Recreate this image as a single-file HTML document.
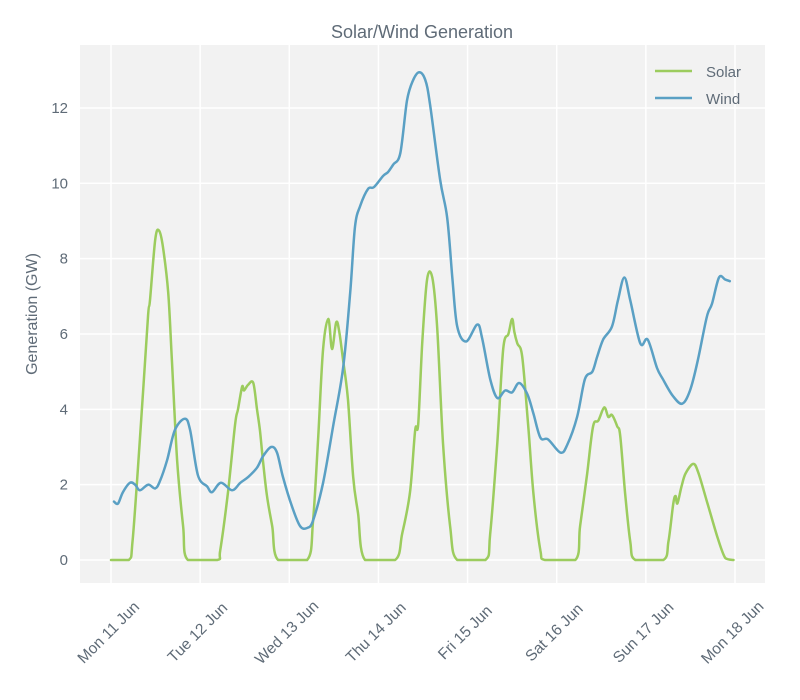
<!DOCTYPE html>
<html><head><meta charset="utf-8"><style>
body{margin:0;background:#fff;}
svg{display:block;font-family:"Liberation Sans",sans-serif;}
</style></head><body>
<svg id="chart" width="800" height="700" viewBox="0 0 800 700">
<rect x="0" y="0" width="800" height="700" fill="#fff"/>
<rect x="80" y="45" width="685" height="538" fill="#f2f2f2"/>
<g id="grid"></g>
<g id="axes"></g>
<g id="series"></g>
<text x="422" y="38" text-anchor="middle" font-size="18" fill="#5f6b77">Solar/Wind Generation</text>
<text transform="translate(37,314) rotate(-90)" text-anchor="middle" font-size="16" fill="#5f6b77">Generation (GW)</text>
<g>
<line x1="655" y1="71" x2="692" y2="71" stroke="#9ccc5e" stroke-width="2.5"/>
<text x="706" y="77" font-size="15" fill="#5f6b77">Solar</text>
<line x1="655" y1="98" x2="692" y2="98" stroke="#5aa0c4" stroke-width="2.5"/>
<text x="706" y="104" font-size="15" fill="#5f6b77">Wind</text>
</g>
</svg>
<script>
const dayLabels=["Mon 11 Jun","Tue 12 Jun","Wed 13 Jun","Thu 14 Jun","Fri 15 Jun","Sat 16 Jun","Sun 17 Jun","Mon 18 Jun"];
const yTicks=[0,2,4,6,8,10,12];
const solarHours=[0,4.8,5.9,8.6,10.0,10.5,11.9,12.9,14.0,15.4,16.4,17.8,19.4,20.7,28.6,29.4,31.5,33.4,34.2,35.3,35.8,36.9,38.3,39.3,40.1,40.9,42.0,43.4,45.0,52.8,54.4,55.8,57.1,58.5,59.5,60.6,61.4,62.5,63.8,65.2,66.5,68.4,76.5,78.4,80.5,81.9,82.7,83.8,85.1,86.5,87.8,89.4,91.3,93.2,100.8,102.1,104.0,105.6,107.0,108.0,108.6,109.4,110.7,112.3,113.7,115.6,116.9,125.0,126.3,128.2,129.8,131.2,132.8,133.9,134.9,136.3,137.1,138.4,139.8,141.2,148.7,150.1,151.4,152.0,152.5,153.6,154.7,156.8,158.2,160.6,163.3,165.4,167.6];
const solarValues=[0,0,0.6,4.4,6.5,6.9,8.5,8.75,8.3,7.1,5.3,2.65,0.9,0,0,0.25,1.8,3.6,4.0,4.6,4.5,4.65,4.7,4.0,3.45,2.65,1.7,0.9,0,0,1.05,3.3,5.6,6.4,5.6,6.3,6.1,5.3,4.25,2.2,1.25,0,0,0.7,1.8,3.45,3.6,5.75,7.45,7.5,6.2,3.1,0.9,0,0,0.7,3.1,5.6,6.0,6.4,6.05,5.75,5.4,3.6,1.8,0.25,0,0,0.9,2.3,3.55,3.7,4.05,3.8,3.85,3.55,3.3,1.8,0.5,0,0,0.5,1.5,1.7,1.5,1.95,2.3,2.55,2.3,1.5,0.6,0.05,0];
const windHours=[0.8,1.9,3.2,5.1,6.5,7.8,10.0,11.9,13.2,15.1,17.2,19.9,21.3,23.4,25.9,27.2,29.6,32.6,34.8,36.9,39.3,40.9,43.1,44.7,46.3,48.8,50.9,52.8,54.4,57.1,59.8,62.5,64.4,65.7,67.1,69.2,70.8,73.3,74.6,76.0,77.9,79.7,81.4,83.0,84.6,85.9,88.6,90.5,91.9,93.2,95.6,98.6,99.9,102.1,104.0,106.1,108.0,109.9,112.1,113.7,115.6,117.7,121.0,122.8,125.5,127.6,129.6,130.9,132.5,134.9,136.5,138.2,139.8,142.5,144.5,147.0,148.6,151.3,153.8,155.9,158.0,160.4,161.8,163.7,165.3,166.6];
const windValues=[1.55,1.5,1.8,2.05,2.0,1.85,2.0,1.9,2.1,2.65,3.45,3.75,3.45,2.25,1.95,1.8,2.05,1.85,2.05,2.2,2.45,2.75,3.0,2.85,2.2,1.4,0.9,0.85,1.05,2.05,3.55,5.1,7.1,8.85,9.4,9.85,9.9,10.2,10.3,10.5,10.8,12.2,12.75,12.95,12.75,12.1,10.1,9.1,7.5,6.2,5.8,6.25,5.9,4.8,4.3,4.5,4.45,4.7,4.4,3.9,3.25,3.2,2.85,3.05,3.8,4.8,5.0,5.4,5.85,6.2,6.9,7.5,6.9,5.75,5.85,5.1,4.8,4.35,4.15,4.5,5.3,6.45,6.8,7.5,7.45,7.4];

const NS="http://www.w3.org/2000/svg";
const xS=h=>111+(h/24)*89.14;
const yS=v=>560-v*37.67;
function mk(tag,attrs,parent){const e=document.createElementNS(NS,tag);for(const k in attrs)e.setAttribute(k,attrs[k]);parent.appendChild(e);return e;}
const grid=document.getElementById('grid'),axes=document.getElementById('axes'),series=document.getElementById('series');
yTicks.forEach(v=>{
  const l=mk('line',{x1:80,x2:765,y1:yS(v),y2:yS(v),stroke:'#fff','stroke-width':1.5},grid);
  
  
  const t=mk('text',{x:68,y:yS(v)+5,'text-anchor':'end','font-size':15,fill:'#5f6b77'},axes);
  t.textContent=v;
  
  
});
dayLabels.forEach((d,i)=>{
  const x=xS(i*24);
  const l=mk('line',{x1:x,x2:x,y1:45,y2:583,stroke:'#fff','stroke-width':1.5},grid);
  
  
  const t=mk('text',{transform:`translate(${x+1},${636}) rotate(-45)`,'text-anchor':'middle','font-size':15.5,fill:'#5f6b77'},axes);
  t.textContent=d;
  
  
});
function line(hours,vals,color,name){
  const P=hours.map((h,i)=>[xS(h),yS(vals[i])]);
  const base=yS(0);
  const cl=y=>Math.min(y,base);
  let d='M'+P[0][0].toFixed(1)+','+P[0][1].toFixed(1);
  for(let i=0;i<P.length-1;i++){
    const p0=P[i-1]||P[i],p1=P[i],p2=P[i+1],p3=P[i+2]||P[i+1];
    let k1=1/6,k2=1/6;
    if(p1[1]===p2[1]){k1=0;k2=0;}
    const c1=[p1[0]+(p2[0]-p0[0])*k1,cl(p1[1]+(p2[1]-p0[1])*k1)];
    const c2=[p2[0]-(p3[0]-p1[0])*k2,cl(p2[1]-(p3[1]-p1[1])*k2)];
    d+=` C${c1[0].toFixed(1)},${c1[1].toFixed(1)} ${c2[0].toFixed(1)},${c2[1].toFixed(1)} ${p2[0].toFixed(1)},${p2[1].toFixed(1)}`;
  }
  const p=mk('path',{d:d,fill:'none',stroke:color,'stroke-width':2.5,'stroke-linejoin':'round','stroke-linecap':'round'},series);
  
  
}
line(solarHours,solarValues,'#9ccc5e','solar-line');
line(windHours,windValues,'#5aa0c4','wind-line');
</script>
</body></html>
